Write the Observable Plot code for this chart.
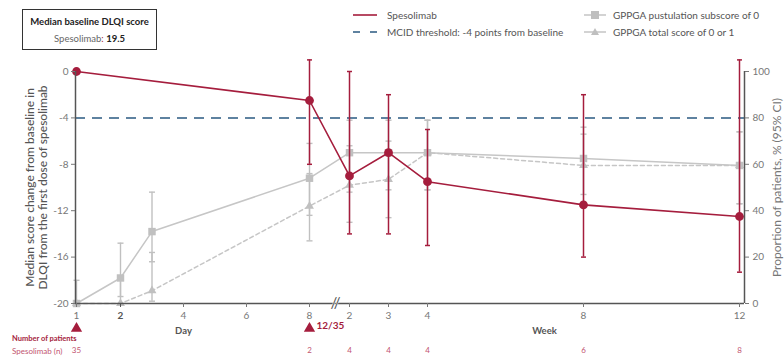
<!DOCTYPE html>
<html><head><meta charset="utf-8">
<script src="https://cdn.jsdelivr.net/npm/d3@7"></script>
<script src="https://cdn.jsdelivr.net/npm/@observablehq/plot@0.6"></script>
<style>
body{margin:0;background:#fff;font-family:Lato,"Noto Sans",sans-serif;}
#wrap{position:relative;width:784px;height:356px;overflow:hidden;}
#wrap > svg{position:absolute;left:0;top:0;}
.box{position:absolute;left:22px;top:9px;width:135px;height:41px;border:1.2px solid #333;box-sizing:border-box;text-align:center;font-size:9.5px;color:#222;}
.box .l1{position:absolute;left:0;right:0;top:6px;font-weight:bold;}
.box .l2{position:absolute;left:0;right:0;top:23px;color:#666;}
.box .l2 b{color:#222;}
.leg{position:absolute;height:14px;display:flex;align-items:center;font-size:10px;color:#555;white-space:nowrap;}
.leg svg{margin-right:10px;}
.np{position:absolute;font-size:8px;line-height:8px;color:#a51d3d;white-space:nowrap;}
</style>
</head><body>
<div id="wrap">
  <div class="box"><div class="l1">Median baseline DLQI score</div><div class="l2">Spesolimab<span style="color:#a51d3d">:</span> <b>19.5</b></div></div>
  <div class="leg" style="left:353px;top:8px"><svg width="24" height="12"><line x1="0" x2="24" y1="6" y2="6" stroke="#a51d3d" stroke-width="1.6"/></svg>Spesolimab</div>
  <div class="leg" style="left:353px;top:25px"><svg width="24" height="12"><line x1="0" x2="24" y1="6" y2="6" stroke="#5e82a0" stroke-width="2" stroke-dasharray="7,10"/></svg>MCID threshold: -4 points from baseline</div>
  <div class="leg" style="left:584px;top:8px"><svg width="22" height="12" style="margin-right:7px"><line x1="0" x2="22" y1="6" y2="6" stroke="#c4c4c4" stroke-width="1.5"/><rect x="7" y="2" width="8" height="8" fill="#bfbfbf"/></svg>GPPGA pustulation subscore of 0</div>
  <div class="leg" style="left:584px;top:25px"><svg width="22" height="12" style="margin-right:7px"><line x1="0" x2="22" y1="6" y2="6" stroke="#c4c4c4" stroke-width="1.5"/><path d="M11,2 L15,9 L7,9 Z" fill="#bfbfbf"/></svg>GPPGA total score of 0 or 1</div>
  <div class="np" style="left:12px;top:335px;font-size:7.5px;font-weight:bold">Number of patients</div>
  <div class="np" style="left:12px;top:347px;color:#c25570">Spesolimab (n)</div>
</div>
<script>
// ---- data ----
const spesoVisit  = ["D1","D8","W2","W3","W4","W8","W12"];
const spesoMedian = [0,-2.5,-9,-7,-9.5,-11.5,-12.5];
const spesoCILow  = [null,-8,-14,-14,-15,-16,-17.3];
const spesoCIHigh = [null,1,0,-2,-5,-2,1];

const gppgaVisit   = ["D1","D2","D3","D8","W2","W3","W4","W8","W12"];
const pustulePct   = [0,11,31,54,65,65,65,62.5,59.5];
const pustuleLow   = [0,3,18,38,48,49,49,47,43];
const pustuleHigh  = [10,26,48,69,79,79,79,76,74];
const totalPct     = [0,0,5.5,42,51,53.5,65,59.5,59.5];
const totalLow     = [null,0,1,27,35,37,49,43,43];
const totalHigh    = [null,10,22,56,68,70,79,73,74];

const mcidThreshold = -4;
const yTicks = [-20,-16,-12,-8,-4,0];
const xTickVisit = ["D1","D2","D4","D6","D8","W2","W3","W4","W8","W12"];
const boldTickVisit = ["D2"];
const unitLabelVisit = ["D4","W7"];
const unitLabelText = ["Day","Week"];
const doseVisit = ["D1","D8"];
const doseLabel = ["","12/35"];
const nVisit = ["D1","D8","W2","W3","W4","W8","W12"];
const nPatients = [35,2,4,4,4,6,8];
const breakAt = ["W0.6"];

// ---- helpers ----
const crimson = "#a51d3d", gray = "#c0c0c0", axisCol = "#555";
const T = v => v[0] === "D" ? +v.slice(1) : 10 + +v.slice(1);
const P = p => p == null ? null : p / 5 - 20;

const spes = spesoVisit.map((v,i) => ({t:T(v), y:spesoMedian[i], lo:spesoCILow[i], hi:spesoCIHigh[i]}));
const pus = gppgaVisit.map((v,i) => ({t:T(v), y:P(pustulePct[i]), lo:P(pustuleLow[i]), hi:P(pustuleHigh[i])}));
const tot = gppgaVisit.map((v,i) => ({t:T(v), y:P(totalPct[i]), lo:P(totalLow[i]), hi:P(totalHigh[i])}));
const spesErr = spes.filter(d => d.lo != null);
const pusErr = pus.filter(d => d.lo != null);
const totErr = tot.filter(d => d.lo != null);
const doses = doseVisit.map((v,i) => ({t:T(v), label:doseLabel[i]}));
const units = unitLabelVisit.map((v,i) => ({t:T(v), label:unitLabelText[i]}));
const nData = nVisit.map((v,i) => ({t:T(v), n:String(nPatients[i])}));

const cap = {draw(ctx, size){ const w = Math.sqrt(size)/2; ctx.moveTo(-w,0); ctx.lineTo(w,0); }};

function errMarks(data, color, capR, sw){
  return [
    Plot.ruleX(data, {x:"t", y1:"lo", y2:"hi", stroke:color, strokeWidth:sw}),
    Plot.dot(data, {x:"t", y:"lo", symbol:cap, r:capR, stroke:color, fill:"none", strokeWidth:sw}),
    Plot.dot(data, {x:"t", y:"hi", symbol:cap, r:capR, stroke:color, fill:"none", strokeWidth:sw})
  ];
}

const chart = Plot.plot({
  width: 784, height: 356,
  marginTop: 71, marginBottom: 53, marginLeft: 75, marginRight: 40,
  style: {fontFamily: "Lato, 'Noto Sans', sans-serif", fontSize: "10px", background: "transparent"},
  x: {type: "linear", domain: [1, 2, 8, 12, 22], range: [76, 120, 309, 349, 739]},
  y: {domain: [-20, 0]},
  marks: [
    Plot.ruleY([mcidThreshold], {stroke:"#5e82a0", strokeWidth:2, strokeDasharray:"10,7"}),
    ...errMarks(totErr, gray, 3.4, 1.4),
    ...errMarks(pusErr, gray, 3.4, 1.4),
    Plot.line(tot, {x:"t", y:"y", stroke:"#c6c6c6", strokeWidth:1.5, strokeDasharray:"4,3"}),
    Plot.line(pus, {x:"t", y:"y", stroke:"#c6c6c6", strokeWidth:1.5}),
    Plot.dot(tot, {x:"t", y:"y", symbol:"triangle", r:3.3, fill:gray}),
    Plot.dot(pus, {x:"t", y:"y", symbol:"square", r:4.2, fill:gray}),
    ...errMarks(spesErr, crimson, 2.8, 1.5),
    Plot.line(spes, {x:"t", y:"y", stroke:crimson, strokeWidth:1.6}),
    Plot.dot(spes, {x:"t", y:"y", r:4.4, fill:crimson}),
    // axes
    Plot.ruleY([-20], {stroke:axisCol, strokeWidth:1.5}),
    Plot.ruleX([1], {dx:-1, stroke:axisCol, strokeWidth:1.5}),
    Plot.ruleX([22], {dx:5, stroke:axisCol, strokeWidth:1.5}),
    Plot.axisY({anchor:"left", ticks:yTicks, tickFormat:d => String(d), tickSize:4, tickPadding:3, color:"#777", label:null}),
    Plot.axisY({anchor:"right", ticks:yTicks, tickFormat:d => String((d + 20) * 5), tickSize:4, tickPadding:4, color:"#777", label:null}),
    Plot.axisX({ticks:xTickVisit.filter(v => !boldTickVisit.includes(v)).map(T), tickFormat:t => String(t <= 8 ? t : t - 10), tickSize:4, tickPadding:4, color:"#777", label:null}),
    Plot.axisX({ticks:boldTickVisit.map(T), tickFormat:t => String(t), tickSize:4, tickPadding:4, color:"#555", fontWeight:"bold", label:null}),
    Plot.text(breakAt, {x:d => T(d), y:() => -20, text:() => "//", fontSize:15, fill:axisCol, stroke:"white", strokeWidth:0.8}),
    // below-axis annotations
    Plot.dot(doses, {x:"t", frameAnchor:"bottom", dy:25, symbol:"triangle", r:4.2, fill:crimson}),
    Plot.text(doses, {x:"t", text:"label", frameAnchor:"bottom", dy:25, dx:7, textAnchor:"start", fill:crimson, fontWeight:"bold", fontSize:10}),
    Plot.text(units, {x:"t", text:"label", frameAnchor:"bottom", dy:30, fill:axisCol, fontWeight:"bold", fontSize:9.5}),
    Plot.text(nData, {x:"t", text:"n", frameAnchor:"bottom", dy:49, fill:"#c25570", fontSize:8}),
    // axis titles
    Plot.text(["Median score change from baseline in\nDLQI from the first dose of spesolimab"], {text:d => d, frameAnchor:"left", textAnchor:"middle", lineAnchor:"middle", dx:-39, rotate:-90, fontSize:12, lineHeight:1.1, fill:"#555", fontWeight:"500"}),
    Plot.text(["Proportion of patients, % (95% CI)"], {text:d => d, frameAnchor:"right", textAnchor:"middle", lineAnchor:"middle", dx:33, rotate:-90, fontSize:12, fill:"#777"})
  ]
});
document.getElementById("wrap").prepend(chart);
</script>
</body></html>
